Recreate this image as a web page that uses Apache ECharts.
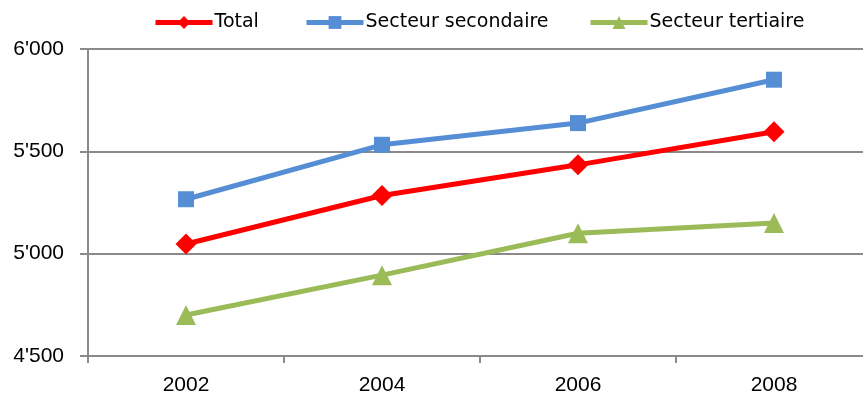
<!DOCTYPE html>
<html style="height: 100%">

<head>
    <meta charset="utf-8">
    <script src="https://cdn.jsdelivr.net/npm/echarts@6/dist/echarts.min.js"></script>
</head>

<body style="height: 100%; margin: 0">
    <div id="chart" style="width: 863px; height: 405px"></div>
    <script type="text/javascript">
        var years = ['2002', '2004', '2006', '2008'];
        var total = [5047, 5284, 5434, 5596];
        var secondaire = [5266, 5532, 5638, 5850];
        var tertiaire = [4700, 4895, 5100, 5150];
        var seriesNames = ['Total', 'Secteur secondaire', 'Secteur tertiaire'];
        var yTicks = { min: 4500, max: 6000, step: 500 };

        var gray = '#8a8a8a';
        var font = '"Liberation Sans", "Noto Sans", sans-serif';

        function mkLine(name, data, color, symbol, size) {
            return {
                name: name,
                type: 'line',
                data: data,
                symbol: symbol,
                symbolSize: size,
                lineStyle: { color: color, width: 5 },
                itemStyle: { color: color },
                z: 3
            };
        }

        // one legend per item so each sits where the original puts it
        function mkLegend(name, left) {
            return {
                top: 8,
                left: left,
                itemWidth: 57,
                itemHeight: 16,
                lineStyle: { width: 5 },
                textStyle: { fontSize: 19, color: '#000', fontFamily: '"DejaVu Sans", sans-serif', padding: [0, 0, 0, -3] },
                data: [name]
            };
        }

        var myChart = echarts.init(document.getElementById('chart'));
        myChart.setOption({
            animation: false,
            textStyle: { fontFamily: font },
            color: ['#ff0000', '#558ed5', '#9bbb59'],
            legend: [
                mkLegend(seriesNames[0], 148),
                mkLegend(seriesNames[1], 299),
                mkLegend(seriesNames[2], 583)
            ],
            // plot runs past the right edge in the original, so no clamping
            grid: { left: 88, width: 784, top: 49, bottom: 49, outerBoundsMode: 'none', containLabel: false },
            xAxis: {
                type: 'category',
                data: years,
                boundaryGap: true,
                axisLine: { lineStyle: { color: gray, width: 2 } },
                axisTick: { show: true, length: 7, lineStyle: { color: gray, width: 2 } },
                axisLabel: { fontSize: 21, color: '#000', margin: 19 }
            },
            yAxis: {
                type: 'value',
                min: yTicks.min,
                max: yTicks.max,
                interval: yTicks.step,
                axisLine: { show: true, lineStyle: { color: gray, width: 2 } },
                axisTick: { show: true, length: 8, lineStyle: { color: gray, width: 2 } },
                splitLine: { lineStyle: { color: gray, width: 2 } },
                axisLabel: {
                    fontSize: 21,
                    color: '#000',
                    margin: 24,
                    formatter: function (v) {
                        var s = String(v);
                        return s.slice(0, s.length - 3) + "'" + s.slice(-3);
                    }
                }
            },
            series: [
                mkLine(seriesNames[0], total, '#ff0000', 'diamond', 21),
                mkLine(seriesNames[1], secondaire, '#558ed5', 'rect', 16),
                mkLine(seriesNames[2], tertiaire, '#9bbb59', 'triangle', 20)
            ]
        });
    </script>
</body>

</html>
